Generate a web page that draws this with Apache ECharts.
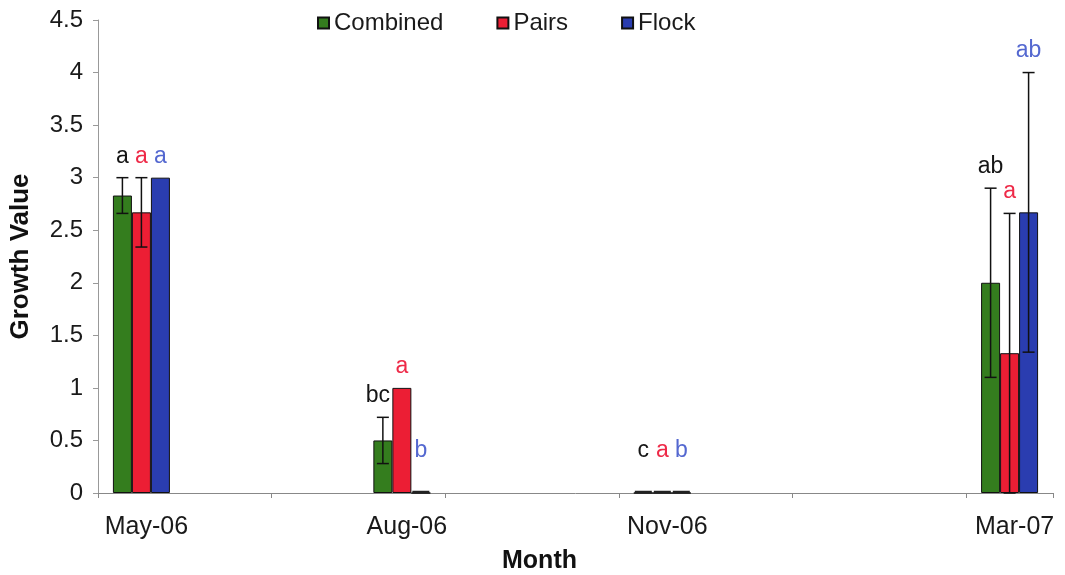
<!DOCTYPE html>
<html>
<head>
<meta charset="utf-8">
<script src="https://cdn.jsdelivr.net/npm/echarts@6/dist/echarts.min.js"></script>
<style>html,body{margin:0;padding:0;background:#fff;}#c{width:1065px;height:575px;}</style>
</head>
<body>
<div id="c"></div>
<script>
// Monthly slots of the date axis (only some months hold data)
const months = ['May-06','Jun-06','Jul-06','Aug-06','Sep-06','Oct-06','Nov-06','Dec-06','Jan-07','Feb-07','Mar-07'];
const labelledMonths = ['May-06','Aug-06','Nov-06','Mar-07'];
const seriesNames = ['Combined','Pairs','Flock'];

const combined    = [2.83, null, null, 0.5,  null, null, 0, null, null, null, 2.0];
const combinedErr = [0.17, null, null, 0.22, null, null, 0, null, null, null, 0.9];
const combinedLet = ['a',  null, null, 'bc', null, null, 'c', null, null, null, 'ab'];

const pairs    = [2.67, null, null, 1.0, null, null, 0, null, null, null, 1.33];
const pairsErr = [0.33, null, null, 0,   null, null, 0, null, null, null, 1.33];
const pairsLet = ['a',  null, null, 'a', null, null, 'a', null, null, null, 'a'];

const flock    = [3.0, null, null, 0,   null, null, 0, null, null, null, 2.67];
const flockErr = [0,   null, null, 0,   null, null, 0, null, null, null, 1.33];
const flockLet = ['a', null, null, 'b', null, null, 'b', null, null, null, 'ab'];

const barColors  = ['#347d1e', '#ec1e34', '#2a3db0'];
const textColors = ['#151515', '#ee2a48', '#5468d0'];
const BAR_W = 19;

const vals = [combined, pairs, flock];
const errs = [combinedErr, pairsErr, flockErr];
const lets = [combinedLet, pairsLet, flockLet];

const extra = [];
const extraData = [];
vals.forEach((arr, s) => {
  arr.forEach((v, i) => {
    if (v === null) return;
    extra.push({ s: s, letter: lets[s][i] });
    extraData.push([i, v, errs[s][i] || 0, s]);
  });
});

const FONT = '"Liberation Sans", Arial, sans-serif';

function renderItem(params, api) {
  const i = api.value(0), v = api.value(1), e = api.value(2), s = api.value(3);
  const info = extra[params.dataIndex];
  const base = api.coord([i, v]);
  const cx = base[0] + (s - 1) * BAR_W;
  const children = [];
  let topVal = v;
  if (e > 0) {
    const hi = api.coord([i, v + e])[1];
    const lo = api.coord([i, Math.max(v - e, 0)])[1];
    topVal = v + e;
    const st = { stroke: '#111', lineWidth: 1.5 };
    children.push({ type: 'line', shape: { x1: cx, y1: hi, x2: cx, y2: lo }, style: st });
    children.push({ type: 'line', shape: { x1: cx - 6, y1: hi, x2: cx + 6, y2: hi }, style: st });
    children.push({ type: 'line', shape: { x1: cx - 6, y1: lo, x2: cx + 6, y2: lo }, style: st });
  }
  if (v === 0) {
    const y0 = api.coord([i, 0])[1];
    children.push({ type: 'line', shape: { x1: cx - BAR_W / 2 + 1, y1: y0 - 1, x2: cx + BAR_W / 2 - 1, y2: y0 - 1 }, style: { stroke: '#222', lineWidth: 2.5 } });
  }
  const ty = api.coord([i, topVal])[1] - (v === 0 ? 31 : 10);
  const tx = info.letter.length > 1 && s === 0 && v > 0 && v < 1 ? cx - 5 : cx;
  children.push({
    type: 'text',
    z2: 10,
    style: { text: info.letter, x: tx, y: ty, fill: textColors[s], font: '23px ' + FONT, align: 'center', verticalAlign: 'bottom' }
  });
  return { type: 'group', children: children };
}

const chart = echarts.init(document.getElementById('c'), null, { renderer: 'canvas' });
const barSeries = seriesNames.map((n, s) => ({
  name: n,
  type: 'bar',
  data: vals[s],
  barWidth: BAR_W,
  barGap: '0%',
  itemStyle: { color: barColors[s], borderColor: '#111', borderWidth: 1 },
  emphasis: { disabled: true },
  z: 2
}));

chart.setOption({
  animation: false,
  backgroundColor: '#fff',
  textStyle: { fontFamily: FONT },
  legend: {
    top: 6,
    left: 312,
    itemWidth: 11,
    itemHeight: 11,
    itemGap: 53,
    icon: 'rect',
    data: seriesNames,
    textStyle: { fontSize: 24, color: '#1a1a1a', fontFamily: FONT }
  },
  grid: { left: 98, right: 12, top: 20, bottom: 82, containLabel: false, outerBoundsMode: 'none' },
  xAxis: {
    type: 'category',
    data: months,
    boundaryGap: true,
    name: 'Month',
    nameLocation: 'middle',
    nameGap: 56,
    nameTextStyle: { fontSize: 25, fontWeight: 'bold', color: '#111', fontFamily: FONT, padding: [0, 72, 0, 0] },
    axisLine: { show: true, lineStyle: { color: '#888', width: 1 } },
    axisTick: { show: true, interval: 1, alignWithLabel: false, length: 5, lineStyle: { color: '#888' } },
    axisLabel: {
      interval: (idx, val) => labelledMonths.indexOf(val) >= 0,
      fontSize: 25, color: '#1a1a1a', margin: 22, fontFamily: FONT, padding: [0, 0, 0, 10]
    },
    splitLine: { show: false }
  },
  yAxis: {
    type: 'value',
    min: 0, max: 4.5, interval: 0.5,
    name: 'Growth Value',
    nameLocation: 'middle',
    nameGap: 64,
    nameTextStyle: { fontSize: 26, fontWeight: 'bold', color: '#111', fontFamily: FONT },
    axisLine: { show: true, lineStyle: { color: '#999', width: 1 } },
    axisTick: { show: true, length: 5, lineStyle: { color: '#999' } },
    axisLabel: { fontSize: 24, color: '#1a1a1a', margin: 15, fontFamily: FONT },
    splitLine: { show: false }
  },
  series: barSeries.concat([{
    name: 'errors',
    type: 'custom',
    renderItem: renderItem,
    data: extraData,
    z: 5,
    silent: true,
    clip: false
  }])
});
</script>
</body>
</html>
